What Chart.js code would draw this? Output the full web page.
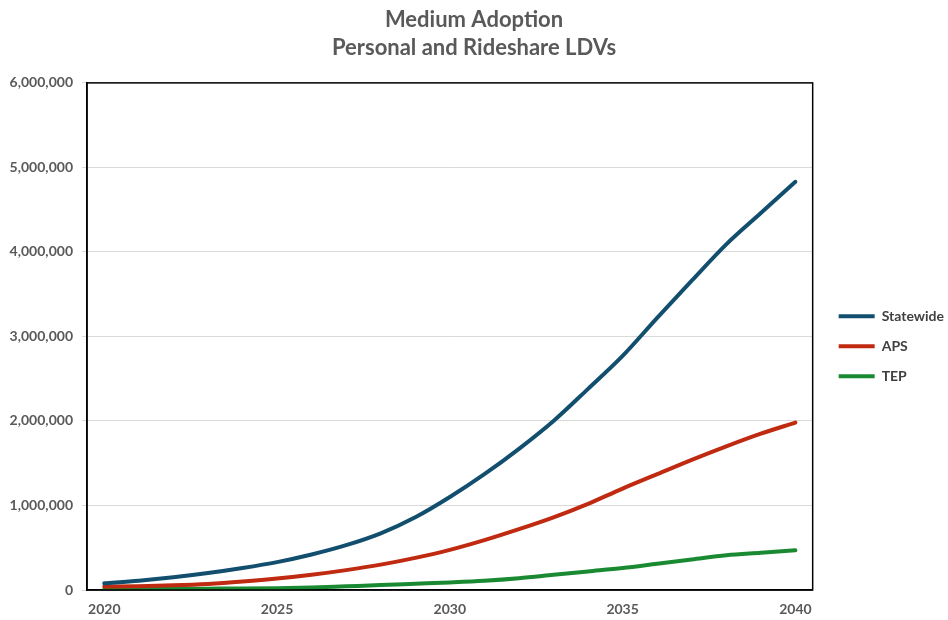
<!DOCTYPE html>
<html>
<head>
<meta charset="utf-8">
<script src="https://cdn.jsdelivr.net/npm/chart.js@4"></script>
<style>
  html, body { margin: 0; padding: 0; background: #ffffff; }
  #wrap { position: relative; width: 948px; height: 620px; }
</style>
</head>
<body>
<div id="wrap"><canvas id="c"></canvas></div>
<script>
const years = [2020,2021,2022,2023,2024,2025,2026,2027,2028,2029,2030,2031,2032,2033,2034,2035,2036,2037,2038,2039,2040];
const statewide = [80000,110000,150000,200000,260000,330000,420000,530000,670000,860000,1100000,1370000,1670000,2000000,2380000,2770000,3220000,3660000,4090000,4460000,4830000];
const aps = [40000,45000,55000,72000,100000,135000,180000,235000,300000,380000,475000,590000,720000,860000,1020000,1200000,1370000,1540000,1700000,1850000,1980000];
const tep = [10000,12000,14000,16000,18000,22000,30000,44000,58000,74000,90000,110000,140000,180000,220000,260000,310000,360000,410000,440000,470000];
const seriesNames = ["Statewide", "APS", "TEP"];
const titleLines = ["Medium Adoption", "Personal and Rideshare LDVs"];
const yTicks = [0,1000000,2000000,3000000,4000000,5000000,6000000];

const FONT = "Lato, 'Open Sans', 'Noto Sans', sans-serif";
const colors = ["#124F6E", "#BF2A10", "#1A8A32"];

const frame = {
  id: 'frame',
  afterLayout(chart) {
    const lg = chart.legend;
    if (lg) { lg.left += 10; lg.right += 10; }
  },
  afterDatasetsDraw(chart) {
    const a = chart.chartArea, ctx = chart.ctx;
    ctx.save();
    ctx.strokeStyle = '#000000';
    ctx.lineWidth = 1.5;
    ctx.strokeRect(a.left, a.top, a.right - a.left, a.bottom - a.top);
    ctx.restore();
  }
};

const mk = (i, data) => ({
  label: seriesNames[i],
  data: data,
  borderColor: colors[i],
  backgroundColor: colors[i],
  borderWidth: 4,
  pointRadius: 0,
  cubicInterpolationMode: 'monotone',
  borderCapStyle: 'round',
  fill: false
});

new Chart(document.getElementById('c'), {
  type: 'line',
  data: {
    labels: years,
    datasets: [mk(0, statewide), mk(1, aps), mk(2, tep)]
  },
  options: {
    responsive: true,
    maintainAspectRatio: false,
    animation: false,
    layout: { padding: { left: 4, right: 4, top: 2, bottom: 0 } },
    plugins: {
      title: {
        display: true,
        text: titleLines,
        color: '#595959',
        font: { family: FONT, size: 22, weight: 'bold', lineHeight: 1.27 },
        padding: { top: 4, bottom: 21 }
      },
      legend: {
        position: 'right',
        title: { display: true, text: ' ', font: { size: 12 }, padding: 28 },
        labels: {
          usePointStyle: true,
          pointStyle: 'line',
          pointStyleWidth: 36,
          color: '#404040',
          font: { family: FONT, size: 14, weight: 'bold' },
          padding: 16
        }
      },
      tooltip: { enabled: false }
    },
    scales: {
      x: {
        type: 'category',
        offset: true,
        grid: { display: false },
        border: { display: true, color: '#000000', width: 1.5 },
        afterFit: (s) => { s.height = 30; },
        ticks: {
          autoSkip: false,
          maxRotation: 0,
          color: '#595959',
          font: { family: FONT, size: 14, weight: 'bold' },
          padding: 3,
          callback: function(v, i) { const y = years[i]; return (y % 5 === 0) ? String(y) : ''; }
        }
      },
      y: {
        min: 0,
        max: 6000000,
        afterBuildTicks: (s) => { s.ticks = yTicks.map(v => ({ value: v })); },
        afterFit: (s) => { s.width = 83; },
        grid: { color: '#D9D9D9', lineWidth: 1, tickLength: 5, tickColor: '#D9D9D9' },
        border: { display: true, color: '#000000', width: 1.5 },
        ticks: {
          color: '#595959',
          font: { family: FONT, size: 14, weight: 'bold' },
          padding: 9,
          callback: (v) => Number(v).toLocaleString('en-US')
        }
      }
    }
  },
  plugins: [frame]
});
</script>
</body>
</html>
